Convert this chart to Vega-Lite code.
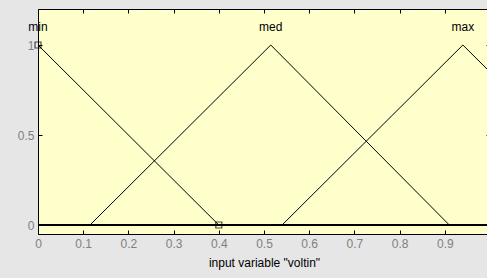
{
  "$schema": "https://vega.github.io/schema/vega-lite/v6.json",
  "width": 452,
  "height": 225,
  "autosize": "none",
  "padding": {"left": 38, "top": 9, "right": 0, "bottom": 44},
  "background": "#e6e6e6",
  "config": {
    "view": {"fill": "#ffffcc", "stroke": "#000000", "strokeWidth": 1},
    "font": "Liberation Sans",
    "axis": {"grid": false, "domain": false, "tickColor": "#000000", "labelColor": "#808080", "labelFontSize": 12, "titleFontWeight": "normal", "titleColor": "#000000", "titleFontSize": 12}
  },
  "datasets": {
    "mf": [
      {"mf": "min", "x": 0, "y": 1},
      {"mf": "min", "x": 0.4, "y": 0},
      {"mf": "min", "x": 1, "y": 0},
      {"mf": "med", "x": 0, "y": 0},
      {"mf": "med", "x": 0.115, "y": 0},
      {"mf": "med", "x": 0.515, "y": 1},
      {"mf": "med", "x": 0.91, "y": 0},
      {"mf": "med", "x": 1, "y": 0},
      {"mf": "max", "x": 0, "y": 0},
      {"mf": "max", "x": 0.54, "y": 0},
      {"mf": "max", "x": 0.94, "y": 1},
      {"mf": "max", "x": 1, "y": 0.85}
    ],
    "labels": [
      {"mf": "min", "x": 0, "y": 1},
      {"mf": "med", "x": 0.515, "y": 1},
      {"mf": "max", "x": 0.94, "y": 1}
    ],
    "handles": [
      {"x": 0, "y": 1},
      {"x": 0.4, "y": 0}
    ]
  },
  "resolve": {"axis": {"x": "independent", "y": "independent"}},
  "layer": [
    {
      "data": {"name": "mf"},
      "mark": {"type": "line", "color": "#000000", "strokeWidth": 1, "clip": true},
      "encoding": {
        "x": {"field": "x", "type": "quantitative", "scale": {"domain": [0, 1], "nice": false, "zero": false},
              "axis": {"orient": "bottom", "values": [0, 0.1, 0.2, 0.3, 0.4, 0.5, 0.6, 0.7, 0.8, 0.9, 1], "format": ".1~f", "tickSize": -4, "labelPadding": 8, "title": "input variable \"voltin\"", "titlePadding": 8, "labelFlush": false}},
        "y": {"field": "y", "type": "quantitative", "scale": {"domain": [-0.05, 1.2], "nice": false, "zero": false},
              "axis": {"orient": "left", "values": [0, 0.5, 1], "format": ".1~f", "tickSize": -4, "labelPadding": 8, "title": null}},
        "detail": {"field": "mf"}
      }
    },
    {
      "data": {"name": "mf"},
      "mark": {"type": "rule", "color": "#000000", "strokeWidth": 1.5},
      "encoding": {
        "y": {"datum": 0, "type": "quantitative", "axis": {"orient": "right", "values": [0, 0.5, 1], "tickSize": -4, "labels": false, "title": null}},
        "x": {"datum": 0, "type": "quantitative", "axis": {"orient": "top", "values": [0, 0.1, 0.2, 0.3, 0.4, 0.5, 0.6, 0.7, 0.8, 0.9, 1], "tickSize": -4, "labels": false, "title": null}},
        "x2": {"datum": 1}
      }
    },
    {
      "data": {"name": "labels"},
      "mark": {"type": "text", "color": "#000000", "fontSize": 12, "dy": -18, "baseline": "middle"},
      "encoding": {
        "x": {"field": "x", "type": "quantitative", "axis": null},
        "y": {"field": "y", "type": "quantitative", "axis": null},
        "text": {"field": "mf"}
      }
    },
    {
      "data": {"name": "handles"},
      "mark": {"type": "point", "shape": "square", "filled": false, "color": "#000000", "size": 36, "strokeWidth": 1.2},
      "encoding": {
        "x": {"field": "x", "type": "quantitative", "axis": null},
        "y": {"field": "y", "type": "quantitative", "axis": null}
      }
    }
  ]
}
